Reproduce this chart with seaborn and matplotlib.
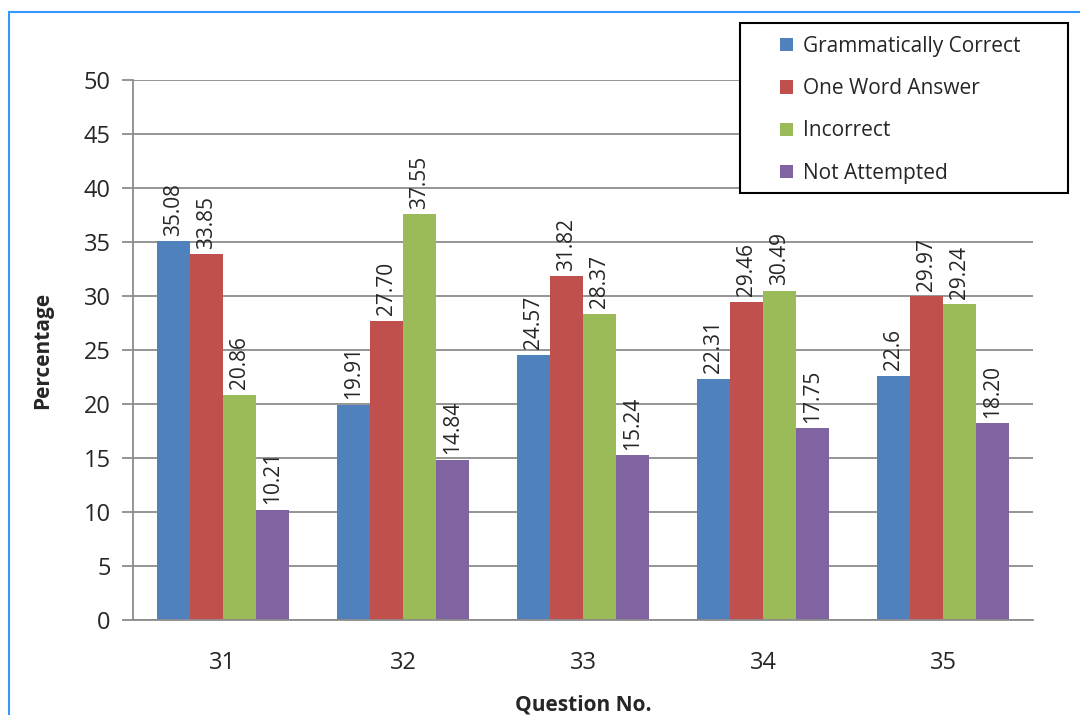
import seaborn as sns
import pandas as pd
import matplotlib.pyplot as plt
from matplotlib.patches import Rectangle

questions = ["31", "32", "33", "34", "35"]
series = ["Grammatically Correct", "One Word Answer", "Incorrect", "Not Attempted"]
grammatically_correct = [35.08, 19.91, 24.57, 22.31, 22.6]
one_word_answer = [33.85, 27.70, 31.82, 29.46, 29.97]
incorrect = [20.86, 37.55, 28.37, 30.49, 29.24]
not_attempted = [10.21, 14.84, 15.24, 17.75, 18.20]
value_labels = [
    ["35.08", "19.91", "24.57", "22.31", "22.6"],
    ["33.85", "27.70", "31.82", "29.46", "29.97"],
    ["20.86", "37.55", "28.37", "30.49", "29.24"],
    ["10.21", "14.84", "15.24", "17.75", "18.20"],
]
colors = ["#4F81BD", "#C0504D", "#9BBB59", "#8064A2"]

rows = []
for name, vals in zip(series, [grammatically_correct, one_word_answer, incorrect, not_attempted]):
    for q, v in zip(questions, vals):
        rows.append({"Question No.": q, "Series": name, "Percentage": v})
df = pd.DataFrame(rows)

sns.set_style("white")
plt.rcParams["font.family"] = ["Open Sans", "DejaVu Sans"]

fig = plt.figure(figsize=(10.8, 7.15), dpi=100)
ax = fig.add_axes([133 / 1080, 95 / 715, 900 / 1080, 540 / 715])

sns.barplot(data=df, x="Question No.", y="Percentage", hue="Series",
            palette=colors, width=0.73, gap=0, saturation=1, ax=ax,
            linewidth=0, errorbar=None)

for cont, labs in zip(ax.containers, value_labels):
    ax.bar_label(cont, labels=labs, rotation=90, padding=4, fontsize=15)

grid_c = "#8C8C8C"
ax.set_ylim(0, 50)
ax.set_xlim(-0.5, 4.5)
ax.set_yticks(range(0, 51, 5))
ax.yaxis.grid(True, color=grid_c, linewidth=1.3)
ax.set_axisbelow(True)
for s in ["top", "right"]:
    ax.spines[s].set_visible(False)
for s in ["left", "bottom"]:
    ax.spines[s].set_color(grid_c)
    ax.spines[s].set_linewidth(1.3)

ax.set_xticks([i - 0.5 for i in range(6)], minor=True)
ax.tick_params(axis="x", which="major", length=0, pad=22, labelsize=17)
ax.tick_params(axis="x", which="minor", length=7, color=grid_c, width=1.3, direction="out")
ax.tick_params(axis="y", length=8, color=grid_c, width=1.3, direction="out", labelsize=17, left=True, pad=8)

ax.set_xlabel("Question No.", fontsize=15, fontweight="bold", labelpad=14)
ax.set_ylabel("Percentage", fontsize=15, fontweight="bold", labelpad=22)

handles, labels = ax.get_legend_handles_labels()
ax.legend_.remove()
leg = fig.legend(handles, labels, loc="upper left",
                 bbox_to_anchor=(780 / 1080, 1 - 36 / 715),
                 fontsize=15, frameon=False,
                 handlelength=0.6, handleheight=0.6,
                 labelspacing=1.02, borderpad=0, handletextpad=0.5,
                 borderaxespad=0)
leg.set_zorder(6)

# legend box, drawn separately so it can have wide side padding
fig.patches.append(Rectangle((740 / 1080, 1 - 193 / 715), 328 / 1080, 170 / 715,
                             transform=fig.transFigure, facecolor="white",
                             edgecolor="black", linewidth=1.5, zorder=5))

# outer light-blue frame
fig.patches.append(Rectangle((9 / 1080, -0.2), 1.5, 1.2 - 12 / 715,
                             transform=fig.transFigure, fill=False,
                             edgecolor="#3399FF", linewidth=1.5))

fig.savefig("out.png", dpi=100)
